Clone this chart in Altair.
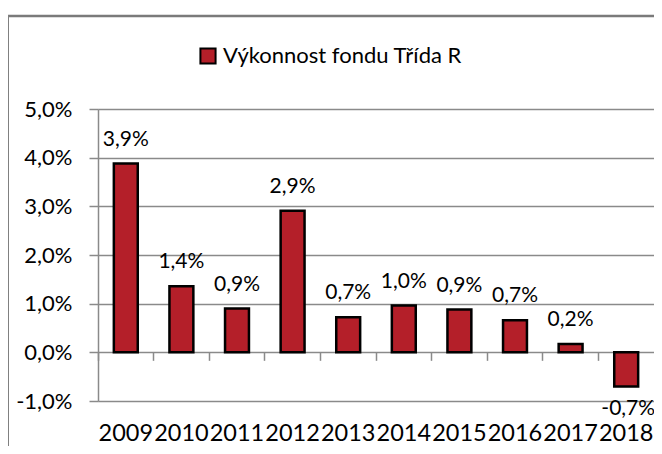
import altair as alt
import pandas as pd

years = ["2009", "2010", "2011", "2012", "2013", "2014", "2015", "2016", "2017", "2018"]
values_pct = [3.88, 1.36, 0.90, 2.91, 0.72, 0.96, 0.88, 0.66, 0.17, -0.70]
series_name = "Výkonnost fondu Třída R"
y_tick_pct = [-1, 0, 1, 2, 3, 4, 5]

RED = "#B41F29"
GRAY = "#8a8a8a"
FONT = "Lato"

df = pd.DataFrame({"year": years, "value": [v / 100 for v in values_pct],
                   "series": [series_name] * len(years)})
y_ticks = [t / 100 for t in y_tick_pct]

FMT = "replace(replace(format(datum.value, '.1%'), '.', ','), '\u2212', '-')"

W, H = 556, 292
zero_offset = -H * 1 / 6  # 0% line is 1/6 of the height above the bottom (-1%)

xscale = alt.Scale(domain=years, paddingInner=0, paddingOuter=0)

y_enc = alt.Y(
    "value:Q",
    scale=alt.Scale(domain=[-0.01, 0.05], nice=False),
    axis=alt.Axis(
        values=y_ticks, labelExpr=FMT, title=None,
        grid=True, gridColor=GRAY, gridWidth=1.5,
        domainColor=GRAY, domainWidth=1.5,
        tickColor=GRAY, tickWidth=1.5, tickSize=9,
        labelPadding=17, labelFont=FONT, labelFontSize=22, labelColor="black",
    ),
)

base = alt.Chart(df)
one = alt.Chart(pd.DataFrame({"k": [0]}))

border_top = one.mark_rule(stroke="#7a7a7a", strokeWidth=2.5).encode(
    x=alt.value(-91), x2=alt.value(W), y=alt.value(-93), y2=alt.value(-93)
)
border_left = one.mark_rule(stroke="#808080", strokeWidth=2).encode(
    x=alt.value(-90), x2=alt.value(-90), y=alt.value(-94), y2=alt.value(H + 50)
)

bars = base.mark_bar(stroke="black", strokeWidth=2.5, width=alt.RelativeBandSize(0.43)).encode(
    x=alt.X("year:N", scale=xscale, sort=years, axis=alt.Axis(
        orient="bottom", offset=zero_offset, labels=False, domain=False, grid=False,
        ticks=True, tickSize=8, tickColor=GRAY, tickWidth=1.5, bandPosition=0, title=None,
    )),
    y=y_enc,
    color=alt.Color("series:N", scale=alt.Scale(range=[RED]),
                    legend=alt.Legend(title=None, orient="none", legendX=99, legendY=-64,
                                      symbolType="square", symbolSize=230,
                                      symbolStrokeColor="black", symbolStrokeWidth=2,
                                      labelFont=FONT, labelFontSize=22, labelColor="black",
                                      labelLimit=500, padding=0)),
)

pos_text = base.transform_filter("datum.value >= 0").transform_calculate(
    label=FMT
).mark_text(font=FONT, fontSize=21, color="black", baseline="alphabetic", dy=-18).encode(
    x=alt.X("year:N", scale=xscale, sort=years, axis=alt.Axis(
        orient="bottom", domain=False, ticks=False, tickSize=0, grid=False,
        labelPadding=39, labelBaseline="alphabetic", labelAngle=0,
        labelFont=FONT, labelFontSize=23.5, labelColor="black", title=None,
    )),
    y=y_enc,
    text="label:N",
)

neg_text = base.transform_filter("datum.value < 0").transform_calculate(
    label=FMT
).mark_text(font=FONT, fontSize=21, color="black", baseline="alphabetic", dy=29, dx=2).encode(
    x=alt.X("year:N", scale=xscale, sort=years, axis=None),
    y=y_enc,
    text="label:N",
)

chart = alt.layer(border_top, border_left, bars, pos_text, neg_text).resolve_axis(
    x="independent"
).properties(
    width=W, height=H,
    autosize=alt.AutoSizeParams(type="none"),
    padding={"left": 90, "top": 101, "right": 0, "bottom": 45},
).configure_view(stroke=None).configure(font=FONT)

chart.save("out.html", embed_options={"renderer": "svg", "actions": False})
